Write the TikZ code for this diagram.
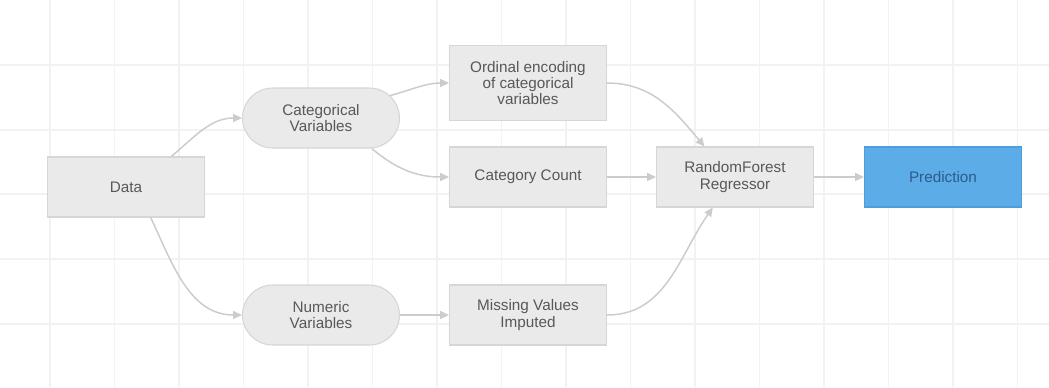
\documentclass[tikz,border=0pt]{standalone}
\usepackage{fontspec}
\setmainfont{Liberation Sans}
\usetikzlibrary{arrows.meta,shapes.misc}

\definecolor{gridgray}{RGB}{242,242,242}
\definecolor{boxfill}{RGB}{234,234,234}
\definecolor{boxline}{RGB}{214,214,214}
\definecolor{linkgray}{RGB}{204,204,204}
\definecolor{textgray}{RGB}{88,88,88}
\definecolor{predfill}{RGB}{92,172,232}
\definecolor{predline}{RGB}{78,158,222}
\definecolor{predtext}{RGB}{44,92,138}

\tikzset{
  box/.style={draw=boxline, fill=boxfill, line width=0.6pt, minimum width=3.14cm,
    minimum height=1.2cm, inner sep=0pt, align=center, text=textgray,
    font=\fontsize{8.7}{9.3}\selectfont},
  pill/.style={box, rounded rectangle},
  conn/.style={draw=linkgray, line width=0.85pt, -{Triangle[length=5pt,width=4.5pt]}},
  gridline/.style={draw=gridgray, line width=1.1pt}
}

\begin{document}
\begin{tikzpicture}[x=0.02cm, y=0.02cm]

\useasboundingbox (0,0) rectangle (1049,-387);
\foreach \gx in {50,114.5,...,1018} \draw[gridline] (\gx,0) -- (\gx,-387);
\foreach \gy in {65,129.7,...,389} \draw[gridline] (0,-\gy) -- (1049,-\gy);

\node[box] (data) at (126,-187) {Data};
\node[pill] (cat) at (321,-118) {Categorical\\Variables};
\node[pill] (num) at (321,-315) {Numeric\\Variables};
\node[box, minimum height=1.5cm] (ord) at (528,-83) {Ordinal encoding\\of categorical\\variables};
\node[box] (count) at (528,-177) {Category Count};
\node[box] (miss) at (528,-315) {Missing Values\\Imputed};
\node[box] (rf) at (735,-177) {RandomForest\\Regressor};
\node[box, draw=predline, fill=predfill, text=predtext] (pred) at (943,-177) {Prediction};

\draw[conn] (data.34) to[out=40, in=180] (cat.west);
\draw[conn] (data.-51) to[out=-65, in=180] (num.west);
\draw[conn] (cat.18) to[out=15, in=180] (ord.west);
\draw[conn] (cat.-31) to[out=-40, in=180] (count.west);
\draw[conn] (num.east) -- (miss.west);
\draw[conn] (count.east) -- (rf.west);
\draw[conn] (ord.east) to[out=0, in=130] (rf.135);
\draw[conn] (miss.east) to[out=0, in=-125] (rf.-126);
\draw[conn] (rf.east) -- (pred.west);

\end{tikzpicture}
\end{document}
